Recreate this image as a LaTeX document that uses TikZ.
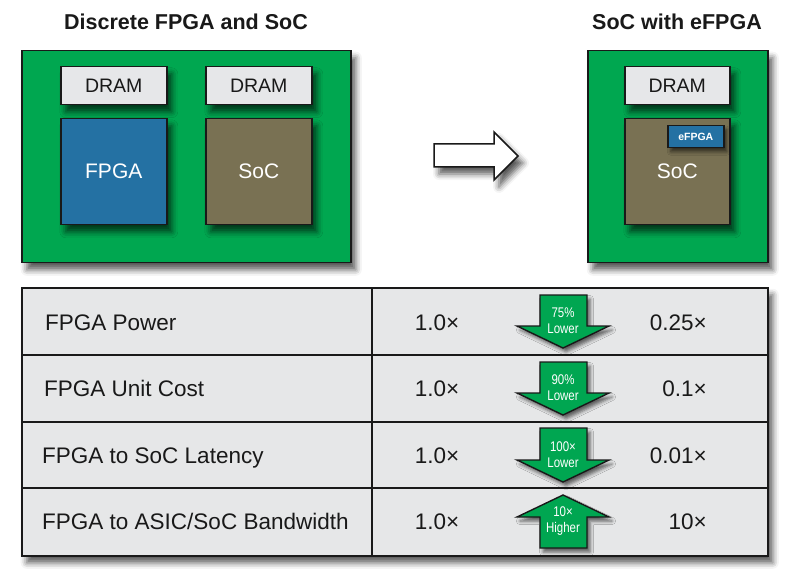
\documentclass[tikz,border=0pt]{standalone}
\usepackage{fontspec}
\setmainfont{Liberation Sans}
\newfontfamily\narrowsans[FakeStretch=0.82]{Liberation Sans}
\usetikzlibrary{shadows.blur}
\definecolor{boardgreen}{RGB}{0,167,80}
\definecolor{fpgablue}{RGB}{36,113,163}
\definecolor{socolive}{RGB}{121,113,83}
\definecolor{dramgray}{RGB}{230,231,233}
\definecolor{tablegray}{RGB}{230,231,232}
\definecolor{arrowgreen}{RGB}{0,166,81}
\definecolor{ink}{RGB}{25,25,25}
\tikzset{
  shad/.style={blur shadow={shadow xshift=5pt, shadow yshift=-7pt, shadow blur radius=6pt, shadow opacity=65}},
  smallshad/.style={blur shadow={shadow xshift=3pt, shadow yshift=-4pt, shadow blur radius=3.5pt, shadow opacity=60}},
  board/.style={draw=ink, line width=1.5pt, fill=boardgreen, shad, inner sep=0pt, anchor=north west},
  chip/.style={draw=ink, line width=1.5pt, shad, inner sep=0pt, anchor=north west},
  dram/.style={chip, fill=dramgray, text=ink, font=\fontsize{19.5}{22}\selectfont},
  core/.style={chip, text=white, font=\fontsize{21}{24}\selectfont},
  efpgabox/.style={draw=ink, line width=1.5pt, fill=fpgablue, smallshad, inner sep=0pt, anchor=north west, text=white, font=\bfseries\fontsize{10.5}{12}\selectfont},
  title/.style={font=\bfseries\fontsize{21.5}{24}\selectfont, text=ink, inner sep=0pt},
  tbl/.style={draw=ink, line width=1.5pt, fill=tablegray, shad, inner sep=0pt, anchor=north west},
  tline/.style={draw=ink, line width=1.5pt},
  rowtxt/.style={font=\fontsize{22.5}{26}\selectfont, text=ink, inner sep=0pt, text height=16pt, text depth=0pt},
  bigarrow/.style={draw=ink, line width=1.5pt, fill=white, shad, line join=miter},
  garrow/.style={draw=ink, line width=1.4pt, fill=arrowgreen, smallshad, line join=miter},
  alabel/.style={font=\narrowsans\fontsize{14}{16}\selectfont, text=white, align=center, inner sep=0pt},
}
\begin{document}
\begin{tikzpicture}[x=1pt,y=-1pt]
\useasboundingbox (0,0) rectangle (800,585);
% titles
\node[title] (t1) at (186,22) {Discrete FPGA and SoC};
\node[title] (t2) at (677,22) {SoC with eFPGA};
% left board
\node[board, minimum width=329pt, minimum height=212pt] (lboard) at (21,50) {};
\node[dram, minimum width=106pt, minimum height=38pt] (dram1) at (60,66) {DRAM};
\node[core, fill=fpgablue, minimum width=106pt, minimum height=106pt] (fpga) at (60,118) {FPGA};
\node[dram, minimum width=106pt, minimum height=38pt] (dram2) at (205,66) {DRAM};
\node[core, fill=socolive, minimum width=106pt, minimum height=106pt] (soc1) at (205,118) {SoC};
% transition arrow
\draw[bigarrow] (434,144) -- (494,144) -- (494,132) -- (518,156) -- (494,180) -- (494,167) -- (434,167) -- cycle;
% right board
\node[board, minimum width=180pt, minimum height=212pt] (rboard) at (587,50) {};
\node[dram, minimum width=105pt, minimum height=38pt] (dram3) at (624,66) {DRAM};
\node[core, fill=socolive, minimum width=105pt, minimum height=106pt] (soc2) at (624,118) {SoC};
\node[efpgabox, minimum width=56pt, minimum height=22pt] (efpga) at (667,125) {eFPGA};
% table
\node[tbl, minimum width=746pt, minimum height=268pt] (table) at (21,287) {};
\draw[tline] (21,355) -- (767,355);
\draw[tline] (21,422) -- (767,422);
\draw[tline] (21,488) -- (767,488);
\draw[tline] (372,287) -- (372,555);
% row labels
\node[rowtxt, anchor=west] (l1) at (45,322) {FPGA Power};
\node[rowtxt, anchor=west] (l2) at (44,388) {FPGA Unit Cost};
\node[rowtxt, anchor=west] (l3) at (42,455) {FPGA to SoC Latency};
\node[rowtxt, anchor=west] (l4) at (42,521) {FPGA to ASIC/SoC Bandwidth};
% left values
\node[rowtxt] (a1) at (437,322) {1.0×};
\node[rowtxt] (a2) at (437,388) {1.0×};
\node[rowtxt] (a3) at (437,455) {1.0×};
\node[rowtxt] (a4) at (437,521) {1.0×};
% right values
\node[rowtxt, anchor=east] (b1) at (707,322) {0.25×};
\node[rowtxt, anchor=east] (b2) at (707,388) {0.1×};
\node[rowtxt, anchor=east] (b3) at (707,455) {0.01×};
\node[rowtxt, anchor=east] (b4) at (707,521) {10×};
% green arrows
\draw[garrow] (540,295) -- (587,295) -- (587,326) -- (609,326) -- (563,348) -- (517,326) -- (540,326) -- cycle;
\draw[garrow] (540,362) -- (587,362) -- (587,393) -- (609,393) -- (563,415) -- (517,393) -- (540,393) -- cycle;
\draw[garrow] (540,428) -- (587,428) -- (587,460) -- (609,460) -- (563,482) -- (517,460) -- (540,460) -- cycle;
\draw[garrow] (540,548) -- (587,548) -- (587,517) -- (609,517) -- (563,495) -- (517,517) -- (540,517) -- cycle;
\node[alabel] (g1) at (563,321) {75\%\\Lower};
\node[alabel] (g2) at (563,388) {90\%\\Lower};
\node[alabel] (g3) at (563,455) {100×\\Lower};
\node[alabel] (g4) at (563,521) {10×\\Higher};
\end{tikzpicture}
\end{document}
